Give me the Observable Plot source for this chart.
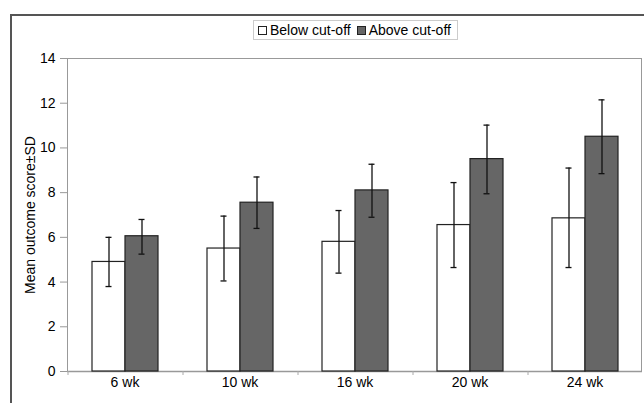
<!DOCTYPE html>
<html><head><meta charset="utf-8">
<script src="https://cdn.jsdelivr.net/npm/d3@7"></script>
<script src="https://cdn.jsdelivr.net/npm/@observablehq/plot@0.6"></script>
<style>
body{margin:0;background:#fff;font-family:"Liberation Sans",Arial,sans-serif;}
#wrap{position:relative;width:644px;height:403px;overflow:hidden;}
#frame{position:absolute;left:10px;top:14px;width:700px;height:500px;border-left:2px solid #555;border-top:2px solid #555;}
#plotbox{position:absolute;left:67px;top:58px;width:575px;height:313px;border-left:1px solid #999;border-top:1px solid #999;border-right:1px solid #999;box-sizing:border-box;pointer-events:none;}
#legend{position:absolute;left:253px;top:20px;width:205px;height:20px;box-sizing:border-box;padding:0 0 0 4px;border:1px solid #ccc;font-size:14px;display:flex;align-items:center;gap:3px;white-space:nowrap;background:#fff;}
.sw{display:inline-block;width:7px;height:7px;border:1px solid #222;}
#chart{position:absolute;left:0;top:0;}
#chart svg{font-family:"Liberation Sans",Arial,sans-serif !important;}
#chart svg g text{font-size:14px !important;fill:#000;}
</style></head>
<body><div id="wrap"><div id="frame"></div><div id="chart"></div><div id="plotbox"></div>
<div id="legend"><span class="sw" style="background:#fff"></span><span>Below cut-off</span><span class="sw" style="background:#666;margin-left:3px"></span><span>Above cut-off</span></div></div>
<script>
const weeks = ["6 wk","10 wk","16 wk","20 wk","24 wk"];
const groups = ["Below cut-off","Above cut-off"];
const belowMean = [4.9, 5.5, 5.8, 6.55, 6.85];
const belowLow  = [3.8, 4.05, 4.4, 4.65, 4.65];
const belowHigh = [6.0, 6.95, 7.2, 8.45, 9.1];
const aboveMean = [6.05, 7.55, 8.1, 9.5, 10.5];
const aboveLow  = [5.25, 6.4, 6.9, 7.95, 8.85];
const aboveHigh = [6.8, 8.7, 9.27, 11.02, 12.15];
const yTicks = [0,2,4,6,8,10,12,14];
const yLabel = "Mean outcome score±SD";

const data = [];
weeks.forEach((w,i)=>{
  data.push({week:w, group:groups[0], mean:belowMean[i], lo:belowLow[i], hi:belowHigh[i]});
  data.push({week:w, group:groups[1], mean:aboveMean[i], lo:aboveLow[i], hi:aboveHigh[i]});
});

const chart = Plot.plot({
  width:644, height:403,
  marginLeft:67, marginTop:58, marginBottom:32, marginRight:2,
  fx:{domain:weeks, padding:0},
  x:{domain:groups, paddingInner:0, paddingOuter:0.742},
  y:{domain:[0,14]},
  color:{domain:groups, range:["#fff","#666"]},
  marks:[
    Plot.axisY({ticks:yTicks, tickSize:7, tickPadding:5, fontSize:14, label:null, stroke:"#999"}),
    Plot.axisY({ticks:[], label:yLabel, labelAnchor:"center", labelArrow:"none", labelOffset:42, fontSize:14}),
    Plot.axisFx({anchor:"bottom", tickSize:0, tickPadding:6, fontSize:14, label:null}),
    Plot.axisX({ticks:[], label:null}),
    Plot.ruleY([0], {stroke:"#999", strokeWidth:1.5}),
    Plot.ruleX(weeks, {fx:d=>d, x:()=>groups[0], dx:-41, y1:0, y2:0, insetBottom:-4, stroke:"#aaa"}),
    Plot.barY(data, {fx:"week", x:"group", y:"mean", fill:"group", stroke:"#222", strokeWidth:1.2}),
    Plot.ruleX(data, {fx:"week", x:"group", y1:"lo", y2:"hi", stroke:"#111", strokeWidth:1.3}),
    Plot.tickY(data, {fx:"week", x:"group", y:"lo", stroke:"#111", strokeWidth:1.3, insetLeft:13.5, insetRight:13.5}),
    Plot.tickY(data, {fx:"week", x:"group", y:"hi", stroke:"#111", strokeWidth:1.3, insetLeft:13.5, insetRight:13.5})
  ]
});
document.getElementById("chart").appendChild(chart);
</script></body></html>
